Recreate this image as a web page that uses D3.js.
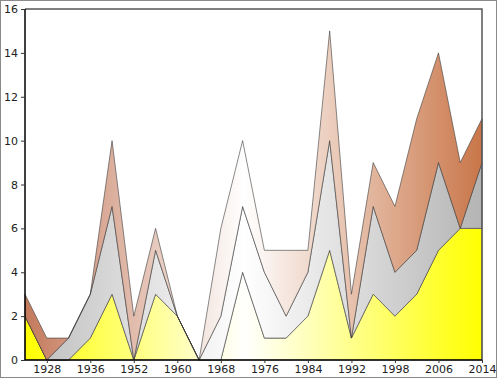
<!DOCTYPE html>
<html>
<head>
<meta charset="utf-8">
<script src="https://cdn.jsdelivr.net/npm/d3@7"></script>
<style>
  html, body { margin: 0; padding: 0; background: #fff; }
  svg { display: block; }
  text { font-family: "DejaVu Sans", sans-serif; font-size: 11px; fill: #222; }
</style>
</head>
<body>
<svg id="chart" width="500" height="379"></svg>
<script>
const years = ["1924","1928","1932","1936","1948","1952","1956","1960","1964","1968","1972","1976","1980","1984","1988","1992","1994","1998","2002","2006","2010","2014"];
const gold   = [2,0,0,1,3,0,3,2,0,0,4,1,1,2,5,1,3,2,3,5,6,6];
const silver = [0,0,1,2,4,0,2,0,0,2,3,3,1,2,5,0,4,2,2,4,0,3];
const bronze = [1,1,0,0,3,2,1,0,0,4,3,1,3,1,5,2,2,3,6,5,3,2];
const yTicks = [0,2,4,6,8,10,12,14,16];
const xTickLabels = ["1928","1936","1952","1960","1968","1976","1984","1992","1998","2006","2014"];

const svg = d3.select("#chart");
const m = {left: 25, right: 482, top: 9, bottom: 360};

svg.append("rect").attr("x",0.5).attr("y",0.5).attr("width",496).attr("height",377)
  .attr("fill","#fff").attr("stroke","#8a8a8a").attr("stroke-width",1);

const x = d3.scalePoint().domain(years).range([m.left, m.right]);
const y = d3.scaleLinear().domain([0,16]).range([m.bottom, m.top]);

const rows = years.map((yr,i) => ({year: yr, gold: gold[i], silver: silver[i], bronze: bronze[i]}));
const keys = ["gold","silver","bronze"];
const stack = d3.stack().keys(keys)(rows);

const defs = svg.append("defs");
const cols = {
  gold:   {l: "#ffff00", r: "#ffff00"},
  silver: {l: "#bdbdbd", r: "#b4b4b4"},
  bronze: {l: "#c47a5c", r: "#c97649"}
};
keys.forEach(k => {
  const g = defs.append("linearGradient").attr("id","g_"+k)
    .attr("gradientUnits","userSpaceOnUse")
    .attr("x1",m.left).attr("x2",m.right).attr("y1",0).attr("y2",0);
  g.append("stop").attr("offset",0).attr("stop-color",cols[k].l);
  g.append("stop").attr("offset",0.48).attr("stop-color","#ffffff");
  g.append("stop").attr("offset",1).attr("stop-color",cols[k].r);
});

const area = d3.area()
  .x(d => x(d.data.year))
  .y0(d => y(d[0]))
  .y1(d => y(d[1]));

svg.append("g").selectAll("path").data(stack).join("path")
  .attr("d", area)
  .attr("fill", d => "url(#g_"+d.key+")")
  .attr("stroke", "#3a3a3a")
  .attr("stroke-width", 0.6)
  .attr("stroke-linejoin","miter");

// frame top and right
svg.append("path")
  .attr("d", `M${m.left},${m.top}H${m.right}V${m.bottom}`)
  .attr("fill","none").attr("stroke","#555").attr("stroke-width",1.5);

// Axes
const yAxis = d3.axisLeft(y).tickValues(yTicks).tickSize(4).tickPadding(3).tickFormat(d3.format("d"));
const gy = svg.append("g").attr("transform",`translate(${m.left},0)`).call(yAxis);
gy.select(".domain").attr("stroke","#000").attr("stroke-width",1.5).attr("d",`M0,${m.top}V${m.bottom}`);
gy.selectAll(".tick line").attr("stroke","#333");
gy.selectAll("text").style("font-family","DejaVu Sans, sans-serif").style("font-size","11px").attr("fill","#222");

const xAxis = d3.axisBottom(x).tickValues(xTickLabels).tickSize(3).tickPadding(2);
const gx = svg.append("g").attr("transform",`translate(0,${m.bottom})`).call(xAxis);
gx.select(".domain").attr("stroke","#000").attr("stroke-width",1.5).attr("d",`M${m.left},0H${m.right}`);
gx.selectAll(".tick line").attr("stroke","#333");
gx.selectAll("text").style("font-family","DejaVu Sans, sans-serif").style("font-size","11px").attr("fill","#222");
</script>
</body>
</html>
